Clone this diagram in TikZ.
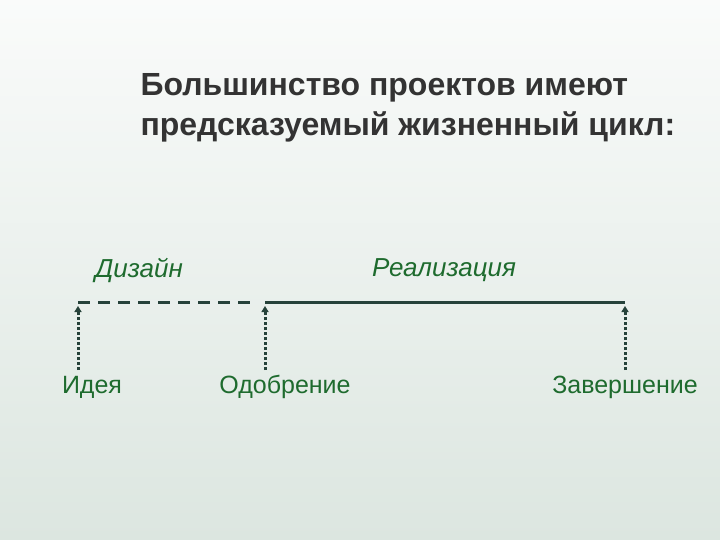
\documentclass[tikz,border=0pt]{standalone}
\usepackage{fontspec}
\setmainfont{Liberation Sans}
\usetikzlibrary{arrows.meta}
\definecolor{bg}{HTML}{DCE6E0}
\definecolor{grn}{HTML}{1E6B2E}
\definecolor{ln}{HTML}{26423A}
\begin{document}
\begin{tikzpicture}[x=1pt,y=-1pt,
  title/.style={anchor=west,font=\bfseries\fontsize{32}{40}\selectfont,text=black!80,align=left},
  phase/.style={font=\itshape\fontsize{26}{30}\selectfont,text=grn},
  event/.style={font=\fontsize{25}{30}\selectfont,text=grn},
  up/.style={ln,line width=3pt,dash pattern=on 3pt off 2pt,-{Triangle[width=7pt,length=6pt]}}]
\useasboundingbox (0,0) rectangle (720,540);
\clip (0,0) rectangle (720,540);
\shade[top color=white!85!bg,bottom color=bg] (0,0) rectangle (720,540);
\node[title] (t) at (137,108) {Большинство проектов имеют\\предсказуемый жизненный цикл:};
\node[phase] (d) at (139,270) {Дизайн};
\node[phase] (r) at (444,270) {Реализация};
\coordinate (a1) at (78,302);
\coordinate (a2) at (254,302);
\coordinate (b1) at (265,302);
\coordinate (b2) at (625,302);
\draw[ln,line width=3pt,dash pattern=on 12pt off 8pt] (a1) -- (a2);
\draw[ln,line width=3pt] (b1) -- (b2);
\node[event] (e1) at (92,387) {Идея};
\node[event] (e2) at (285,387) {Одобрение};
\node[event] (e3) at (625,387) {Завершение};
\coordinate (s1) at (78,370); \coordinate (t1) at (78,306);
\coordinate (s2) at (265,370); \coordinate (t2) at (265,306);
\coordinate (s3) at (625,370); \coordinate (t3) at (625,306);
\draw[up] (s1) -- (t1);
\draw[up] (s2) -- (t2);
\draw[up] (s3) -- (t3);
\end{tikzpicture}
\end{document}
